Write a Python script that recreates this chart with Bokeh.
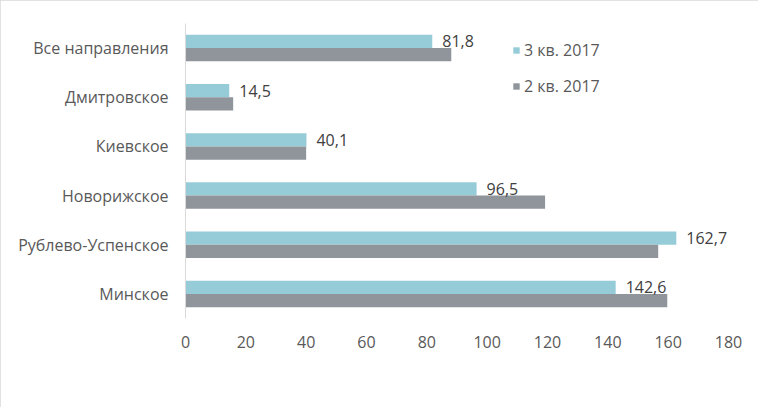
from bokeh.plotting import figure
from bokeh.models import ColumnDataSource, FactorRange, FixedTicker, Legend, LegendItem
from bokeh.transform import dodge
from bokeh.embed import file_html
from bokeh.resources import INLINE

categories = ["Все направления", "Дмитровское", "Киевское", "Новорижское", "Рублево-Успенское", "Минское"]
q3_2017 = [81.8, 14.5, 40.1, 96.5, 162.7, 142.6]
q2_2017 = [88.1, 15.8, 40.0, 119.2, 156.7, 159.7]
series_names = ["3 кв. 2017", "2 кв. 2017"]
x_ticks = [0, 20, 40, 60, 80, 100, 120, 140, 160, 180]

TEAL = "#96CCD8"
GRAY = "#8F959B"
TEXT = "#595959"
FONT = "Open Sans"

src = ColumnDataSource(dict(
    cat=categories,
    q3=q3_2017,
    q2=q2_2017,
    lab=[("%.1f" % v).replace(".", ",") for v in q3_2017],
))

p = figure(width=758, height=407, output_backend="svg", toolbar_location=None,
           y_range=FactorRange(*categories[::-1], range_padding=0),
           x_range=(0, 180))
p.min_border_left = 185
p.min_border_right = 30
p.min_border_top = 23
p.min_border_bottom = 89
p.outline_line_color = None
p.background_fill_color = "white"
p.border_fill_color = "white"
p.styles = {"outline": "2px solid #D9D9D9", "outline-offset": "-2px"}

r3 = p.hbar(y=dodge("cat", 0.135, range=p.y_range), right="q3", left=0, height=0.27,
            source=src, fill_color=TEAL, line_color=None)
r2 = p.hbar(y=dodge("cat", -0.135, range=p.y_range), right="q2", left=0, height=0.27,
            source=src, fill_color=GRAY, line_color=None)

p.text(x="q3", y=dodge("cat", 0.135, range=p.y_range), text="lab", source=src,
       x_offset=10, text_baseline="middle", text_align="left",
       text_font_size="16px", text_color="#404040", text_font={"value": FONT})

p.xgrid.visible = False
p.ygrid.visible = False

xa = p.xaxis[0]
xa.ticker = FixedTicker(ticks=x_ticks)
xa.axis_line_color = None
xa.major_tick_line_color = None
xa.minor_tick_line_color = None
xa.major_label_standoff = 11
xa.major_label_text_font = FONT
xa.major_label_text_font_size = "16px"
xa.major_label_text_color = TEXT

ya = p.yaxis[0]
ya.axis_line_color = "#D9D9D9"
ya.axis_line_width = 1
ya.major_tick_line_color = None
ya.minor_tick_line_color = None
ya.major_tick_out = 0
ya.major_tick_in = 0
ya.major_label_standoff = 17
ya.major_label_text_font = FONT
ya.major_label_text_font_size = "16px"
ya.major_label_text_color = TEXT

legend = Legend(items=[LegendItem(label=series_names[0], renderers=[r3]),
                       LegendItem(label=series_names[1], renderers=[r2])],
                location=(327, 221), orientation="vertical",
                glyph_width=8, glyph_height=8, label_height=20, spacing=14,
                label_standoff=4, padding=0, margin=0,
                border_line_color=None, background_fill_alpha=0,
                label_text_font=FONT, label_text_font_size="16px",
                label_text_color=TEXT)
p.add_layout(legend)

open("out.html", "w").write(file_html(p, INLINE))
